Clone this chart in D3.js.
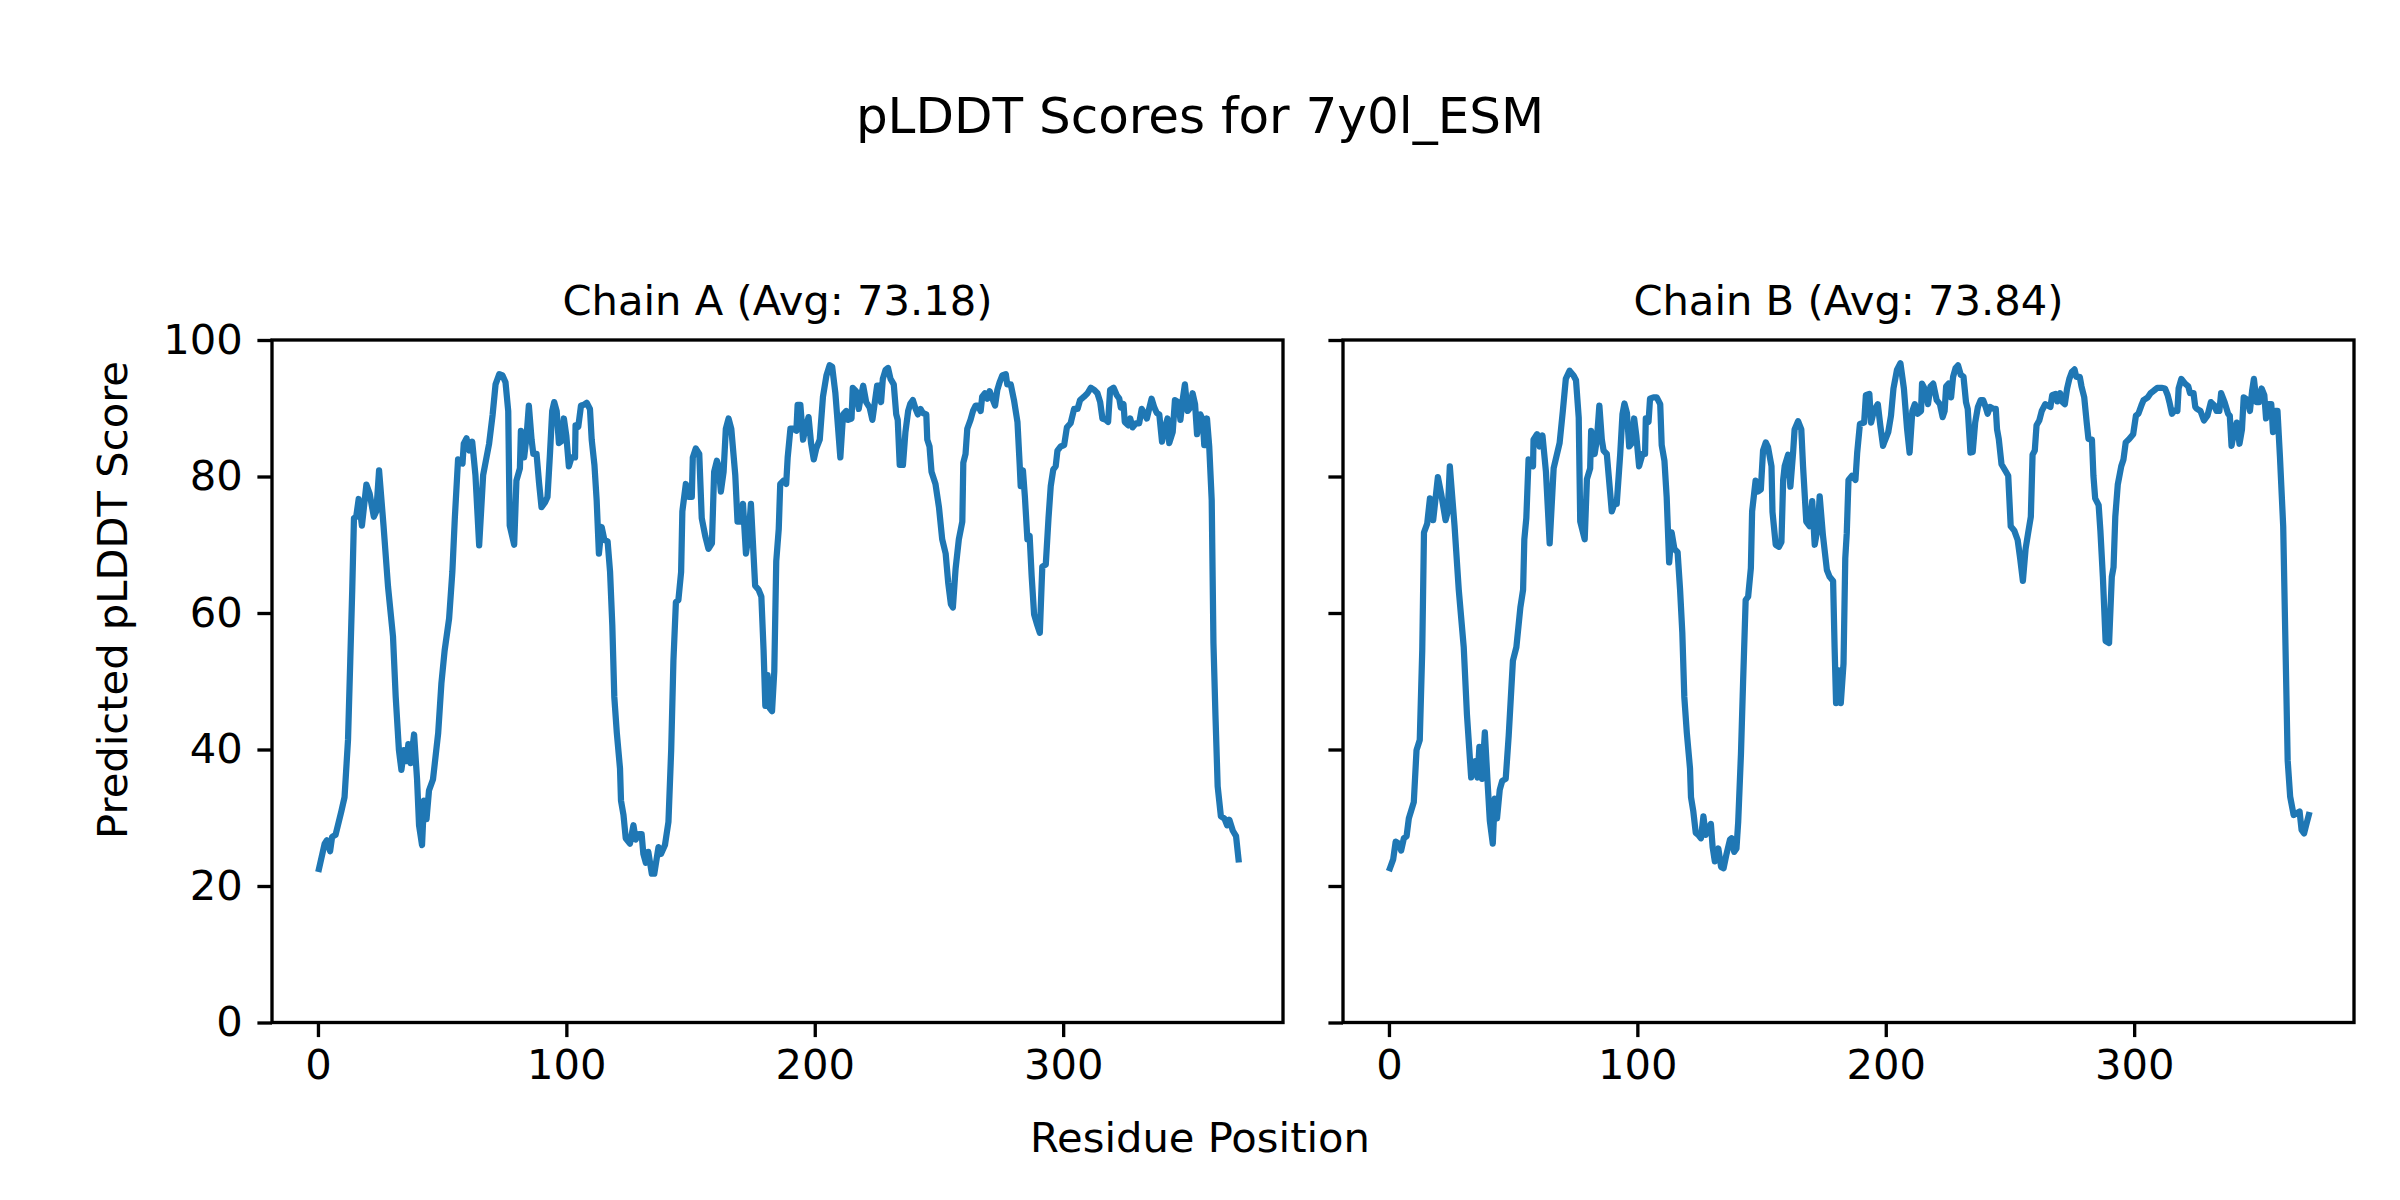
<!DOCTYPE html>
<html lang="en">
  <head>
    <meta charset="UTF-8" />
    <title>pLDDT Scores for 7y0l_ESM</title>
    <script src="https://d3js.org/d3.v7.min.js"></script>
    <style>
      body {
        margin: 0;
        background: white;
      }
      svg text {
        font-family: "DejaVu Sans", sans-serif;
        fill: black;
      }
      .axis path {
        display: none;
      }
      .axis line {
        stroke: black;
        stroke-width: 3.33px;
      }
    </style>
  </head>
  <body>
    <svg width="2400" height="1200"></svg>

    <script>
      // values, [residue, pLDDT]
      const chainA = [
        [0.4,22.5],[2.7,26.2],[3.6,26.7],[4.9,25.1],[5.7,27.2],[7.1,27.5],[9.4,30.9],[10.7,33],[12.1,41.4],[13,52.9],
        [13.8,63.4],[14.5,73.9],[15.4,74.1],[16.4,76.7],[17.7,72.8],[19.5,78.8],[20.8,77.5],[22.5,74.1],[23.5,74.9],[24.6,80.9],
        [26.4,72.8],[28.2,63.9],[30.2,56.6],[31.3,47.7],[32.6,39.9],[33.6,37],[34.6,39.9],[35.6,38.3],[36.4,40.8],[37.3,38],
        [38.7,42.2],[39.9,35.6],[40.7,28.9],[41.9,26],[42.7,32.5],[43.7,29.8],[44.7,34],[46.3,35.6],[48.4,42.4],[49.7,49.7],
        [51,54.5],[52.8,59.2],[54.1,66],[55.1,73.9],[56.4,82.5],[58.2,81.9],[58.7,84.8],[59.8,85.6],[60.9,83.8],[62.1,85.1],
        [63.4,80.2],[64.9,69.9],[66.5,80.2],[68.9,84.8],[70.3,89],[71.5,93.5],[73,95],[74.3,94.8],[75.5,93.8],[76.6,89.6],
        [77.2,72.8],[79,70],[79.9,79.4],[81.3,81.2],[81.7,86.7],[83,82.8],[84,86],[84.9,90.4],[86,85.4],[86.7,83.3],
        [88,83.3],[89,79.1],[90,75.5],[91.4,76.2],[92.4,77],[93.4,83.3],[94.3,89.6],[95.1,90.9],[96.1,89.6],[97,84.9],
        [98.1,85.2],[99,88.5],[100,85.9],[101,81.5],[102.1,82.8],[103.5,82.8],[103.7,87.5],[104.8,87.3],[105.9,90.4],[107,90.5],
        [108.2,90.8],[109.5,89.9],[110.2,85.4],[111.3,81.7],[112.2,76.5],[113.1,68.7],[114.2,72.6],[115.3,70.7],[116.6,70.5],[117.6,66],
        [118.5,58.2],[119.3,47.7],[120.3,42.5],[121.6,37.2],[122,32.5],[123,30.4],[123.9,27],[125.6,26.2],[127,28.9],[127.9,26.8],
        [129.3,27.6],[130.3,27.6],[131,24.7],[132,23.4],[133,25],[134.4,21.8],[135.4,21.8],[137.1,25.7],[138.1,24.7],[139.7,26],
        [141.1,29.4],[142.2,39.9],[143.1,53],[144.1,61.6],[145.1,61.9],[146.2,66],[146.7,74.9],[148.1,78.9],[149.2,77],[150.5,77],
        [150.9,82.8],[152.1,84.1],[153.5,83.3],[154.5,73.9],[155.9,71.3],[157.2,69.4],[158.6,70.2],[159.5,80.7],[160.6,82.3],[161.3,81.5],
        [162.2,77.8],[163.3,80.7],[164.2,87],[165.3,88.5],[166.4,87],[168,80.2],[168.9,73.4],[170.3,73.4],[171.1,76],[172.3,68.7],
        [173.4,71.5],[174.3,76],[176,64],[177.4,63.4],[178.5,62.4],[179.4,54.5],[180.1,46.4],[181,50.9],[181.8,46.1],[182.8,45.6],
        [183.7,51.4],[184.5,67.6],[185.5,72.3],[186.1,78.9],[187.5,79.4],[188.5,78.9],[189.1,82.8],[190.2,87],[191.5,87],[192.6,86.7],
        [193.1,90.5],[194.2,90.5],[195.3,85.4],[196.2,87],[197.5,88.7],[198.5,84.9],[199.6,82.5],[200.6,84.1],[202,85.4],[203.3,91.7],
        [204.7,94.8],[206,96.3],[207,96.1],[208.3,92.2],[209.2,88],[210.3,82.8],[211.4,89.1],[212.7,89.6],[213.4,88.3],[214.8,88.5],
        [215.3,93],[216.6,92.5],[217.7,89.9],[218.4,91.4],[219.5,93.3],[220.7,90.9],[222.1,90.1],[223.2,88.3],[225.1,93.3],[226,93.3],
        [226.7,90.9],[227.4,94.3],[228.5,95.6],[229.5,95.9],[230.5,94.3],[231.8,93.5],[232.8,89.1],[233.4,88.3],[234.2,81.7],[235.5,81.7],
        [236.5,86.5],[237.6,89.6],[238.5,90.7],[239.5,91.2],[240.6,89.9],[241.5,89.1],[242.6,89.9],[243.5,89.3],[244.9,89.1],[245.3,85.4],
        [246.2,84.4],[247,80.7],[248.6,78.9],[250,75.5],[251.3,70.8],[252.7,68.7],[253.7,64.5],[254.8,61.3],[255.6,60.8],[256.7,66.5],
        [258,70.8],[259.4,73.4],[259.8,82],[260.7,83.3],[261.4,87],[262.7,88.3],[263.7,89.6],[264.8,90.4],[265.7,90.4],[266.8,89.6],
        [267.4,91.7],[268.5,92.2],[269.5,91.4],[270.4,92.5],[271.2,91.7],[272.6,90.4],[273.5,92.7],[274.4,93.8],[275.5,94.8],[276.9,95],
        [277.5,93.5],[278.9,93.5],[280.2,91.2],[281.6,88],[282.5,81.7],[282.9,78.6],[283.8,80.9],[284.6,77],[285.6,70.8],[286.5,71.3],
        [287.3,65.5],[288.3,59.8],[289.6,58.2],[290.6,57.1],[291.6,66.8],[293,67.1],[294.1,73.9],[295,78.6],[296,81],[297,81.5],
        [297.7,83.8],[299,84.4],[300.4,84.6],[301.5,87.2],[303,87.8],[304.4,89.9],[305.8,89.9],[306.8,91.2],[308.4,91.7],[309.8,92.2],
        [311.1,93],[312.5,92.7],[313.8,92.2],[314.9,90.9],[315.8,88.5],[317.2,88.3],[318.1,88],[318.9,92.7],[320.3,93],[321.6,91.9],
        [322.6,91.4],[323.2,90.1],[324.3,90.6],[324.8,88],[326.2,87.5],[327,88.5],[327.9,87.2],[329.3,87.8],[330.6,87.8],[331.6,89.9],
        [332.6,89.3],[333.7,88.5],[334.4,89.6],[335.6,91.4],[336.7,90.1],[337.7,89.3],[338.7,89.1],[339.8,85.1],[340.7,86.7],[342,88.5],
        [342.7,84.9],[344.1,86.5],[345,91.2],[346.3,90.9],[347.2,88.3],[348.1,91.2],[349,93.5],[350.1,89.6],[351.2,90.1],[352.1,92.2],
        [353.1,90.6],[353.9,86.2],[355.2,89.1],[356.2,88.3],[356.8,84.6],[357.9,88.5],[358.8,84.4],[359.8,76.5],[360.5,55.6],[361.3,45.1],
        [362.2,34.6],[363.5,30.2],[364.9,29.9],[366,28.9],[366.9,29.7],[368.3,28.1],[369.6,27.3],[370.6,23.9]
      ];

      const chainB = [
        [0.4,22.6],[1.7,23.9],[2.7,26.5],[4,26.2],[4.9,25.2],[6,27],[7.1,27.3],[8,29.9],[10,32.3],[11.1,39.9],
        [12.4,41.4],[13.4,54.5],[14.1,71.8],[15.4,73.1],[16.5,76.8],[17.8,73.6],[19.7,79.9],[21,77.5],[22.8,73.6],[23.7,74.9],
        [24.5,81.5],[26.4,72.8],[28.1,63.4],[30.1,55],[31.4,45.1],[33.1,35.9],[34.8,38.3],[35.7,35.9],[36.4,40.4],[37.5,35.7],
        [38.6,42.5],[39.8,34.6],[40.6,29.6],[41.8,26.2],[42.6,32.8],[43.5,29.9],[44.6,34.1],[45.6,35.4],[47,35.7],[48.2,42],
        [49.9,53],[51.3,55],[52.9,60.8],[54,63.4],[54.5,70.8],[55.3,73.9],[56.2,82.5],[58,81.5],[58.2,85.4],[59.6,86.2],
        [60.6,84.4],[61.8,86],[63.2,80.7],[64.7,70.2],[66.3,81.2],[68.7,84.9],[70,89.6],[71.2,94.3],[72.7,95.5],[74.3,94.8],
        [75.3,94.1],[76.4,88.6],[77,73.4],[78.8,70.8],[79.7,79.6],[81,81.2],[81.4,86.7],[82.8,83.3],[83.7,85.4],[84.7,90.4],
        [85.7,85.4],[86.4,83.8],[87.7,83.3],[88.7,79.1],[89.7,74.9],[90.8,76],[91.7,76],[93.1,83.3],[94,89.1],[94.8,90.7],
        [95.8,89.3],[96.7,84.4],[97.8,84.9],[98.7,88.5],[99.6,85.9],[100.7,81.5],[102.1,83.3],[103.1,83.3],[103.4,88.5],[104.5,88],
        [105.1,91.4],[106.5,91.6],[107.8,91.6],[109.2,90.6],[109.8,84.6],[110.9,82.3],[111.8,77],[112.8,67.4],[113.8,71.8],[114.9,69.4],
        [116.2,68.9],[117.2,63.4],[118.1,57.1],[118.9,47.7],[119.9,42.5],[121.2,37.2],[121.6,33],[122.5,31],[123.5,27.8],[124.5,27.5],
        [125.6,27],[126.6,30.2],[127.5,27.5],[128.6,28.3],[129.6,29.1],[130.3,25.7],[131.2,23.6],[132.6,25.5],[133.7,22.8],[134.7,22.6],
        [135.9,24.7],[137.3,26.8],[137.9,27],[139,25],[139.9,25.5],[140.6,29.4],[141.7,39.3],[142.6,50.3],[143.6,61.9],[144.6,62.4],
        [145.7,66.6],[146.2,74.9],[147.6,79.4],[148.6,77.8],[149.7,78.1],[150.6,83.8],[151.7,85],[152.6,84.3],[154,81.5],[154.4,74.8],
        [155.7,70],[157,69.7],[158,70.4],[158.7,79.5],[159.3,81.5],[160.7,83.2],[161.6,78.5],[162.7,83.5],[163.3,86.9],[164.7,88.1],
        [166,86.9],[166.7,81.5],[168,73.4],[169.4,72.7],[170.4,76.4],[171.4,70],[172.7,72.7],[173.4,77.1],[174.7,71.4],[176.3,66.3],
        [177.4,65.3],[178.8,64.7],[179.4,55],[180,46.8],[181,51.6],[181.9,46.8],[183,52.6],[183.7,68],[184.3,71.7],[185,79.5],
        [186.4,80.1],[187.8,79.5],[188.5,83.5],[189.6,87.7],[191.3,87.9],[192,91.9],[193.4,92.1],[194.1,87.9],[195.2,89.6],[196.8,90.6],
        [197.8,87.5],[198.9,84.5],[199.6,85.2],[201,86.5],[202.1,88.9],[203.1,92.9],[204.5,95.6],[205.9,96.6],[207.3,92.9],[208.6,86.9],
        [209.6,83.5],[210.7,89.6],[211.7,90.6],[212.8,89.2],[214.2,89.6],[214.6,93.6],[216,92.6],[217,90.6],[218,93.2],[219.1,93.6],
        [220.5,91.2],[221.8,90.6],[222.9,88.7],[223.7,89.6],[224.3,93.2],[225.3,93.6],[226.3,91.6],[227.1,94.6],[228.1,95.9],[229.1,96.3],
        [230.2,94.9],[231.3,94.6],[232.3,90.9],[233,89.9],[234.1,83.5],[235,83.6],[236,87.9],[237.1,90.2],[238.2,91.2],[239.2,91.2],
        [240.2,90.2],[241,89.2],[242,90.2],[243.4,89.9],[244.3,89.9],[244.8,86.9],[245.5,85.5],[246.6,81.8],[248.2,80.8],[249.3,80.1],
        [250.3,72.7],[251.7,72.1],[253.1,70.7],[254.1,68],[255.2,64.7],[256.3,69.4],[257.3,71.7],[258.4,74.1],[259.1,83.2],[260,83.8],
        [260.7,87.5],[261.8,88.2],[262.8,89.6],[264.2,90.6],[265.2,90.4],[266.3,90.2],[267,91.9],[268.4,92.1],[269.1,91],[270.2,92.2],
        [271.2,90.9],[272.1,90.6],[273,92.9],[273.9,94.3],[274.9,95.3],[276,95.7],[276.7,94.6],[278.1,94.6],[278.8,93.2],[279.9,91.6],
        [280.9,87.9],[281.6,85.5],[283,85.4],[283.6,80.1],[284.3,76.8],[285.7,75.8],[286.4,72.1],[287.4,65.3],[288.5,55.9],[289.9,55.6],
        [291,65.3],[291.7,66.7],[292.4,74.1],[293.4,78.8],[294.8,81.5],[295.7,82.5],[296.6,85],[298,85.5],[299.6,86.2],[300.7,88.9],
        [301.7,89.2],[303.1,90.6],[303.8,91.2],[305.5,91.6],[306.6,92.2],[308,92.6],[309.3,93],[311,93],[312.4,92.9],[313.5,91.9],
        [314.2,90.9],[315.2,89.2],[316.3,89.7],[317.4,89.6],[317.9,92.9],[319,94.3],[320.5,93.6],[321.8,93.2],[322.5,92.2],[323.9,92.2],
        [324.6,90.2],[325.3,89.9],[326.7,89.6],[328.1,88.2],[329.5,88.9],[330.9,90.9],[332.3,90.4],[333.2,89.6],[334.3,89.6],[335,92.2],
        [336.4,90.9],[337.8,89.2],[338.5,88.9],[339.2,84.5],[340.2,86.5],[341.3,87.9],[342.4,84.8],[343.4,86.9],[344.1,91.6],[345.7,91.2],
        [346.6,89.6],[347.5,92.6],[348.2,94.3],[349.3,90.9],[350.3,90.9],[351.3,92.9],[352.4,91.9],[353.1,88.5],[354.1,90.6],[355.2,90.6],
        [355.9,86.5],[356.9,89.6],[357.7,89.6],[358.7,82.8],[360,72.7],[360.7,59.3],[361.8,38.4],[362.8,33.1],[364.2,30.4],[365.6,30.7],
        [366.6,30.9],[367.4,28.2],[368.4,27.7],[369.3,29],[370.3,30.4]
      ];

      const chainTitles = ["Chain A (Avg: 73.18)", "Chain B (Avg: 73.84)"];
      const residueTicks = [0, 100, 200, 300];
      const scoreTicks = [0, 20, 40, 60, 80, 100];

      const svg = d3.select("svg");
      const plotTop = 340, plotHeight = 682.5, plotWidth = 1011;
      const panels = [
        {left: 272, data: chainA, title: chainTitles[0], labels: true},
        {left: 1343, data: chainB, title: chainTitles[1], labels: false},
      ];

      // matplotlib-style 5% margins around residues 0..370
      const x = d3.scaleLinear().domain([-18.5, 388.5]).range([0, plotWidth]);
      const y = d3.scaleLinear().domain([0, 100]).range([plotHeight, 0]);

      const line = d3
        .line()
        .x((d) => x(d[0]))
        .y((d) => y(d[1]));

      panels.forEach((p) => {
        const g = svg.append("g").attr("transform", `translate(${p.left},${plotTop})`);

        g.append("path")
          .datum(p.data)
          .attr("fill", "none")
          .attr("stroke", "#1f77b4")
          .attr("stroke-width", 6.25)
          .attr("stroke-linejoin", "round")
          .attr("stroke-linecap", "square")
          .attr("d", line);

        // X Axis
        g.append("g")
          .attr("class", "axis")
          .attr("transform", `translate(0,${plotHeight})`)
          .call(d3.axisBottom(x).tickValues(residueTicks).tickSize(14.6).tickPadding(12).tickFormat(d3.format("d")))
          .selectAll("text")
          .attr("font-size", "41.67px")
          .attr("font-family", "DejaVu Sans");

        // Y Axis, labels only on the first panel (shared y)
        g.append("g")
          .attr("class", "axis")
          .call(
            d3
              .axisLeft(y)
              .tickValues(scoreTicks)
              .tickSize(14.6)
              .tickPadding(14.6)
              .tickFormat(p.labels ? d3.format("d") : () => "")
          )
          .selectAll("text")
          .attr("font-size", "41.67px")
          .attr("font-family", "DejaVu Sans");

        // spines
        g.append("rect")
          .attr("width", plotWidth)
          .attr("height", plotHeight)
          .attr("fill", "none")
          .attr("stroke", "black")
          .attr("stroke-width", 3.33);

        g.append("text")
          .attr("x", plotWidth / 2)
          .attr("y", -25)
          .attr("text-anchor", "middle")
          .attr("font-size", "41.67px")
          .text(p.title);
      });

      svg.append("text")
        .attr("x", 1200)
        .attr("y", 133)
        .attr("text-anchor", "middle")
        .attr("font-size", "50px")
        .text("pLDDT Scores for 7y0l_ESM");

      svg.append("text")
        .attr("x", 1200)
        .attr("y", 1152)
        .attr("text-anchor", "middle")
        .attr("font-size", "41.67px")
        .text("Residue Position");

      svg.append("text")
        .attr("transform", "translate(127,600) rotate(-90)")
        .attr("text-anchor", "middle")
        .attr("font-size", "41.67px")
        .text("Predicted pLDDT Score");
    </script>
  </body>
</html>
